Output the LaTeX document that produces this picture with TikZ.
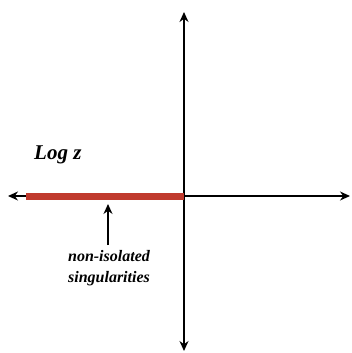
\documentclass[tikz,border=0pt]{standalone}
\usepackage{fontspec}
\setmainfont{Liberation Serif}
\usepackage{tikz}
\usetikzlibrary{arrows.meta, positioning}

\begin{document}
\begin{tikzpicture}[
        x=1pt, y=1pt,
        axis/.style={line width=1.4pt, -{Stealth[length=10pt, width=9pt]}},
        cut/.style={line width=7pt, draw={rgb,255:red,192;green,58;blue,46}},
        lbl/.style={font=\fontsize{16}{21}\selectfont\bfseries\itshape, align=center, inner sep=0pt},
        title/.style={font=\fontsize{21}{24}\selectfont\bfseries\itshape, anchor=base west, inner sep=0pt}
    ]
        \useasboundingbox (0,0) rectangle (352,-353);
        \coordinate (o) at (184,-196);
        \coordinate (xl) at (8,-196);
        \coordinate (xr) at (350,-196);
        \coordinate (yt) at (184,-12);
        \coordinate (yb) at (184,-351);
        \coordinate (cutend) at (26,-196.5);

        \draw[axis] (o) -- (xl);
        \draw[axis] (o) -- (xr);
        \draw[axis] (o) -- (yt);
        \draw[axis] (o) -- (yb);
        \draw[cut] (184,-196.5) -- (cutend);

        \node[title] (logz) at (34,-159) {Log z};
        \node[lbl, anchor=north] (sing) at (109,-250) {non-isolated\\singularities};
        \coordinate (hit) at (108,-204);
        \draw[axis, line width=1.3pt, shorten <=5pt] (sing.north -| hit) -- (hit);
    \end{tikzpicture}
\end{document}
